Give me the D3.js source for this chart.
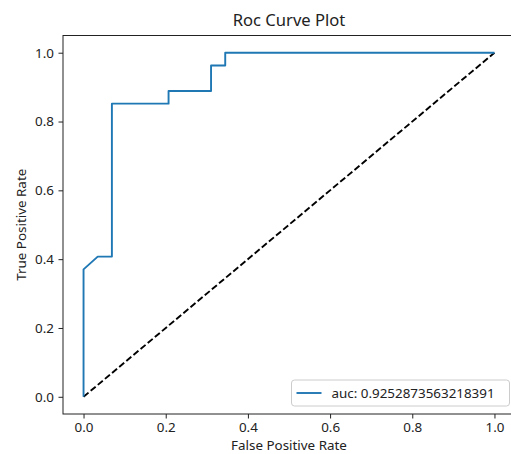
<!DOCTYPE html>
<html>
<head>
<meta charset="utf-8">
<script src="https://cdn.jsdelivr.net/npm/d3@7"></script>
<style>
  body { margin: 0; background: #fff; }
  svg { display: block; font-family: "Noto Sans", sans-serif; }
</style>
</head>
<body>
<div id="chart"></div>
<script>
// roc points
const fpr = [0, 0, 0.0345, 0.069, 0.069, 0.2069, 0.2069, 0.3103, 0.3103, 0.3448, 0.3448, 1];
const tpr = [0, 0.3704, 0.4074, 0.4074, 0.8519, 0.8519, 0.8889, 0.8889, 0.963, 0.963, 1, 1];
const chance = [0, 1];
const ticks = [0, 0.2, 0.4, 0.6, 0.8, 1.0];
const aucLabel = "auc: 0.9252873563218391";

const width = 511, height = 454;
const margin = {top: 35.5, right: -4, bottom: 40, left: 63};
const fontSize = 13.4;

const svg = d3.select("#chart").append("svg")
    .attr("width", width)
    .attr("height", height);

const x = d3.scaleLinear()
    .domain([-0.05, 1.05])
    .range([margin.left, width - margin.right]);

const y = d3.scaleLinear()
    .domain([-0.05, 1.05])
    .range([height - margin.bottom, margin.top]);

// axes
const xAxis = svg.append("g")
    .attr("transform", `translate(0,${height - margin.bottom})`)
    .call(d3.axisBottom(x).tickValues(ticks).tickFormat(d3.format(".1f")).tickSize(4.5).tickPadding(3.5))
    .call(g => g.select(".domain").remove());

const yAxis = svg.append("g")
    .attr("transform", `translate(${margin.left},0)`)
    .call(d3.axisLeft(y).tickValues(ticks).tickFormat(d3.format(".1f")).tickSize(4.5).tickPadding(4.5))
    .call(g => g.select(".domain").remove());

svg.selectAll(".tick text")
    .attr("font-family", "Noto Sans, sans-serif")
    .attr("font-size", fontSize)
    .attr("fill", "#222");
svg.selectAll(".tick line").attr("stroke", "#222").attr("stroke-width", 1);
xAxis.selectAll(".tick text").attr("dy", "0.78em");

// data lines
const line = d3.line()
    .x(d => x(d[0]))
    .y(d => y(d[1]));

svg.append("path")
    .datum(chance.map(v => [v, v]))
    .attr("fill", "none")
    .attr("stroke", "#000")
    .attr("stroke-width", 1.9)
    .attr("stroke-dasharray", "6.5,2.8")
    .attr("d", line);

svg.append("path")
    .datum(fpr.map((f, i) => [f, tpr[i]]))
    .attr("fill", "none")
    .attr("stroke", "#1f77b4")
    .attr("stroke-width", 1.9)
    .attr("stroke-linejoin", "round")
    .attr("d", line);

// frame
svg.append("rect")
    .attr("x", margin.left)
    .attr("y", margin.top)
    .attr("width", width - margin.right - margin.left)
    .attr("height", height - margin.bottom - margin.top)
    .attr("fill", "none")
    .attr("stroke", "#222")
    .attr("stroke-width", 1);

// title and labels
const cx = (margin.left + width - margin.right) / 2;
svg.append("text")
    .attr("x", cx)
    .attr("y", 26)
    .attr("text-anchor", "middle")
    .attr("font-size", 16.6)
    .attr("fill", "#222")
    .text("Roc Curve Plot");

svg.append("text")
    .attr("x", cx)
    .attr("y", 450.3)
    .attr("text-anchor", "middle")
    .attr("font-size", fontSize)
    .attr("fill", "#222")
    .text("False Positive Rate");

svg.append("text")
    .attr("transform", `translate(26,${(margin.top + height - margin.bottom) / 2}) rotate(-90)`)
    .attr("text-anchor", "middle")
    .attr("font-size", fontSize)
    .attr("fill", "#222")
    .text("True Positive Rate");

// legend
const legend = svg.append("g").attr("transform", "translate(291.5,380)");
legend.append("rect")
    .attr("width", 218)
    .attr("height", 26)
    .attr("rx", 3)
    .attr("fill", "#fff")
    .attr("fill-opacity", 0.8)
    .attr("stroke", "#ccc")
    .attr("stroke-width", 1);
legend.append("line")
    .attr("x1", 5).attr("x2", 30)
    .attr("y1", 13).attr("y2", 13)
    .attr("stroke", "#1f77b4")
    .attr("stroke-width", 1.9);
legend.append("text")
    .attr("x", 40)
    .attr("y", 18)
    .attr("font-size", fontSize)
    .attr("fill", "#222")
    .text(aucLabel);
</script>
</body>
</html>
